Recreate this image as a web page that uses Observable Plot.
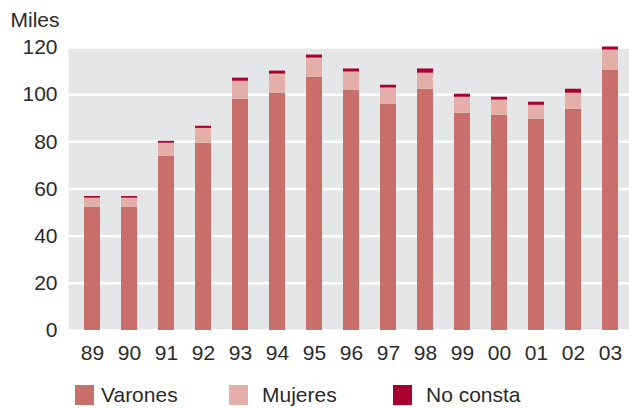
<!DOCTYPE html>
<html><head><meta charset="utf-8">
<script src="https://cdn.jsdelivr.net/npm/d3@7"></script>
<script src="https://cdn.jsdelivr.net/npm/@observablehq/plot@0.6"></script>
<style>
body{margin:0;background:#fff;font-family:"Liberation Sans",Arial,sans-serif;}
#wrap{position:relative;width:629px;height:408px;}
.sw{position:absolute;top:385px;width:19px;height:20px;}
.lt{position:absolute;top:383px;font-size:21px;line-height:24px;color:#2a2a2a;}
</style></head>
<body><div id="wrap"><div id="chart"></div><div id="legend"></div></div>
<script>
const years = ["89","90","91","92","93","94","95","96","97","98","99","00","01","02","03"];
const varones = [52.3,52.3,73.8,79.4,98.1,100.6,107.4,101.9,95.9,102.3,92.1,91.3,89.6,93.8,110.4];
const mujeres = [3.8,3.8,5.6,6.3,7.6,8.1,8.1,7.7,6.9,6.8,6.8,6.4,5.9,6.8,8.5];
const noConsta = [0.7,0.7,0.8,0.9,1.3,1.3,1.3,1.3,1.2,1.8,1.3,1.2,1.3,1.7,1.3];
const seriesNames = ["Varones","Mujeres","No consta"];
const seriesColors = ["#c86e6b","#e4afa9","#a8002f"];
const yTicks = [0,20,40,60,80,100,120];

const data = [];
years.forEach((y,i)=>{
  [varones[i],mujeres[i],noConsta[i]].forEach((v,j)=>data.push({year:y,serie:seriesNames[j],value:v}));
});

const chart = Plot.plot({
  width:629, height:370,
  marginTop:47, marginBottom:40, marginLeft:68, marginRight:0,
  style:{fontFamily:"Liberation Sans, Arial, sans-serif", fontSize:"21px", color:"#2a2a2a", background:"transparent"},
  x:{domain:years, paddingInner:0.574, paddingOuter:0.253, align:0.58, label:null},
  y:{domain:[0,120], label:null},
  color:{domain:seriesNames, range:seriesColors},
  marks:[
    Plot.frame({fill:"#e5e6e8", stroke:null}),
    Plot.gridY(yTicks,{stroke:"white", strokeOpacity:1, strokeWidth:2.5}),
    Plot.barY(data,{x:"year", y:"value", fill:"serie", order:seriesNames}),
    Plot.axisX({tickSize:0, tickPadding:15, fontSize:21}),
    Plot.axisY(yTicks,{tickSize:0, tickPadding:11, fontSize:21, label:null}),
    Plot.text(["Miles"],{frameAnchor:"top-left", dx:-58, dy:-21, textAnchor:"start", lineAnchor:"bottom", fontSize:21, fill:"#2a2a2a"})
  ]
});
document.getElementById("chart").appendChild(chart);

const swatchX = [75,229,393];
const labelX = [101,262,426];
const leg = document.getElementById("legend");
seriesNames.forEach((n,i)=>{
  const s = document.createElement("div");
  s.className="sw"; s.style.left = swatchX[i]+"px"; s.style.background = seriesColors[i];
  leg.appendChild(s);
  const t = document.createElement("div");
  t.className="lt"; t.style.left = labelX[i]+"px"; t.textContent = n;
  leg.appendChild(t);
});
</script></body></html>
